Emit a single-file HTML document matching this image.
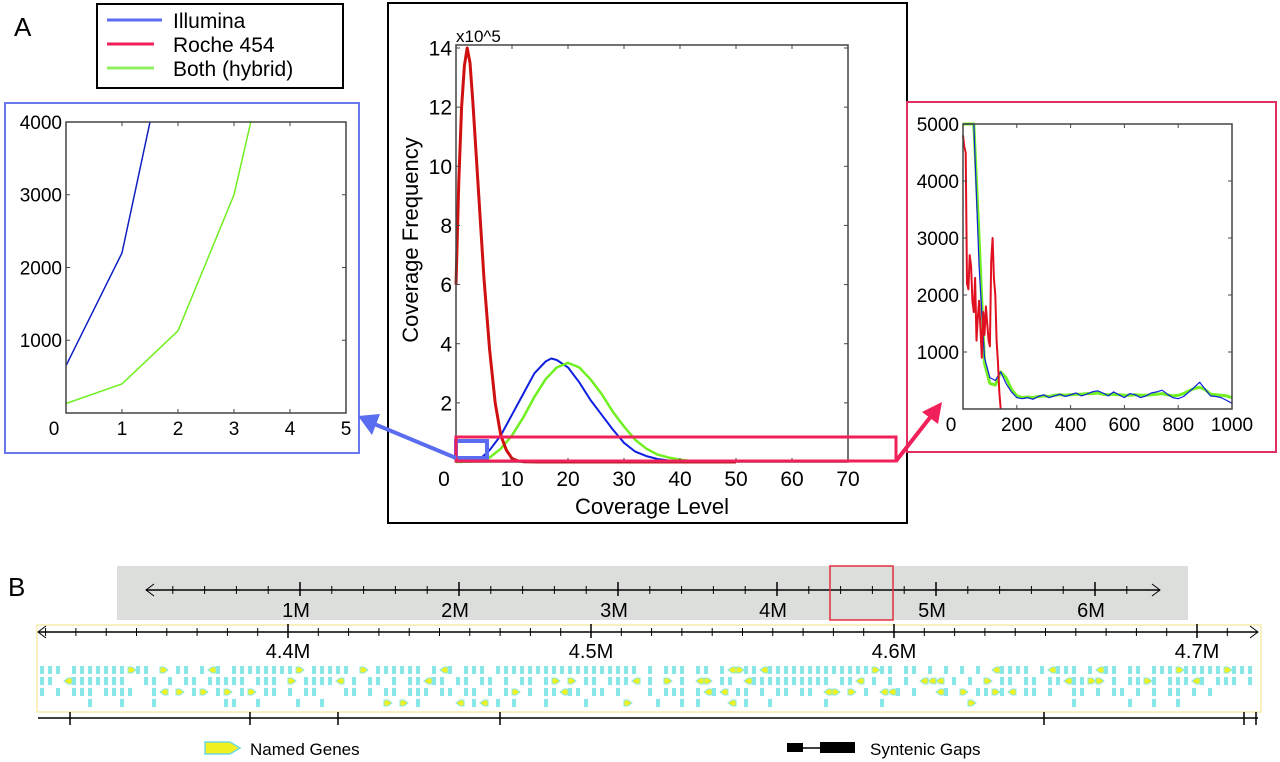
<!DOCTYPE html>
<html><head><meta charset="utf-8"><style>
html,body{margin:0;padding:0;background:#fff;}
svg{display:block;font-family:"Liberation Sans",Arial,sans-serif;}
</style></head><body>
<svg id="fig" width="1280" height="762" viewBox="0 0 1280 762" xmlns="http://www.w3.org/2000/svg">
<text x="14" y="36" font-size="26">A</text>
<text x="8" y="596" font-size="26">B</text>
<g>
<rect x="97" y="4" width="246" height="84" fill="#fff" stroke="#000" stroke-width="2"/>
<g><line x1="107" y1="20" x2="162" y2="20" stroke="#5a6cf0" stroke-width="3"/><text x="173" y="28" font-size="21">Illumina</text></g>
<g><line x1="107" y1="44" x2="154" y2="44" stroke="#f0205a" stroke-width="3"/><text x="173" y="52" font-size="21">Roche 454</text></g>
<g><line x1="107" y1="68" x2="154" y2="68" stroke="#90f060" stroke-width="3"/><text x="173" y="76" font-size="21">Both (hybrid)</text></g>
</g>
<rect x="388" y="3" width="519" height="520" fill="none" stroke="#000" stroke-width="2"/>
<rect x="5" y="103" width="354" height="350" fill="none" stroke="#6a78f0" stroke-width="2"/>
<rect x="907" y="102" width="369" height="350" fill="none" stroke="#e03060" stroke-width="2"/>
<g id="main"></g>
<g id="left"></g>
<g id="right"></g>
<g id="overlay"></g>
<g id="genome"></g>
</svg>
<script>
// ---- main chart data ----
const redX = [0,0.5,1,1.5,2,2.5,3,4,5,6,7,8,9,10,11,12,15,20,30,50];
const redY = [6.0,9.5,12.0,13.4,14.0,13.5,12.2,9.2,6.2,3.8,2.0,0.9,0.4,0.12,0.04,0.01,0,0,0,0];
const blueX = [0,2,4,6,8,10,12,14,16,17,18,20,22,24,26,28,30,32,34,36,38,40,45];
const blueY = [0,0.01,0.05,0.4,0.9,1.6,2.3,3.0,3.4,3.5,3.45,3.2,2.7,2.1,1.6,1.1,0.65,0.35,0.2,0.1,0.05,0.02,0];
const greenX = [0,4,6,8,10,12,14,16,18,20,22,24,26,28,30,32,34,36,38,40,42,45];
const greenY = [0,0.02,0.15,0.45,0.9,1.5,2.2,2.8,3.2,3.35,3.2,2.8,2.3,1.7,1.2,0.75,0.45,0.25,0.15,0.08,0.03,0];
const mainXTicks = [0,10,20,30,40,50,60,70];
const mainYTicks = [2,4,6,8,10,12,14];
// ---- left inset data ----
const leftBlueX = [0,1,1.5];
const leftBlueY = [650,2200,4000];
const leftGreenX = [0,1,2,3,3.3];
const leftGreenY = [130,400,1130,3000,4000];
const leftXTicks = [0,1,2,3,4,5];
const leftYTicks = [1000,2000,3000,4000];
// ---- right inset data (x step 20) ----
const rightBlueY = [5000,5000,5000,2500,900,550,500,650,450,300,200,180,200,170,220,250,200,230,260,220,250,280,230,260,300,320,280,230,300,250,200,270,250,200,230,280,300,330,260,200,180,220,300,380,470,350,230,220,200,150,100];
const rightGreenY = [5000,5000,5000,3000,800,450,420,650,550,350,230,200,210,200,220,230,220,240,250,240,250,260,260,270,270,280,260,250,260,250,240,240,250,240,240,250,260,270,250,230,240,270,320,360,380,340,260,250,240,230,200];
const rightRedX = [0,5,10,15,20,25,30,35,40,45,50,55,60,65,70,75,80,85,90,95,100,105,110,115,120,125,130,135,140];
const rightRedY = [4800,4600,4500,2200,2100,2700,2500,1900,1700,2300,1200,1600,1900,1400,900,1700,1300,1800,1500,1200,1100,2600,3000,2300,2000,1200,800,300,0];
const rightXTicks = [0,200,400,600,800,1000];
const rightYTicks = [1000,2000,3000,4000,5000];
// ---- genome panel ----
const overviewTicks = ["1M","2M","3M","4M","5M","6M"];
const detailTicks = ["4.4M","4.5M","4.6M","4.7M"];
const geneRows = [
"||| |||||||>|| > || |<| ||||||||> ||||| > |||||| |<| ||| |||||||||||||||||| | ||| || |<>||<|||||||||||||>|| || | | | | <|||| |<||| |<|| || |||>|||||>|||||>>|||| |||",
"|| <|||||||  || | || ||||| ||| > ||||< | || | ||<|| || || | || |> > || |||< | > | <> || <|||||||||| ||< | | | <<< | | > || || ||<||>> | ||>| |||<| ||| ||<| |",
"| | ||| ||||  |< > |> |> |> || | ||   || | || ||| || || | |> | ||<|| || |   | ||| |<|< || | || || <> > | <<| |  <| > ||>|< || |  || | || | | || | |",
"      |   |   |        ||  |    |  |       > > |    < |< | |   |    |    >   |  | |   < |  |      |      |          >            |      |  |  |          |  "
];
const baseTicksX = [70,250,338,500,1044,1244,1256];

const NS="http://www.w3.org/2000/svg";
function mk(tag, attrs, parent){const e=document.createElementNS(NS,tag);for(const k in attrs)e.setAttribute(k,attrs[k]);parent.appendChild(e);return e;}
function txt(s, attrs, parent){const e=mk('text',attrs,parent);e.textContent=s;return e;}

function drawChart(g, o){
  const sx=v=>o.x0+(v-o.xmin)/(o.xmax-o.xmin)*(o.x1-o.x0);
  const sy=v=>o.y0-(v-o.ymin)/(o.ymax-o.ymin)*(o.y0-o.y1);
  o.series.forEach(s=>{
    const pts=s.x.map((x,i)=>sx(x).toFixed(1)+','+Math.max(o.top,sy(s.y[i])).toFixed(1)).join(' ');
    const p=mk('polyline',{points:pts,fill:'none',stroke:s.color,'stroke-width':s.w,'stroke-linejoin':'round'},g);
    
    
  });
  const box=mk('rect',{x:o.x0,y:o.top,width:o.x1-o.x0,height:o.y0-o.top,fill:'none',stroke:'#444','stroke-width':1.5},g);
  
  
  o.xt.forEach(t=>{
    const x=sx(t);
    mk('line',{x1:x,y1:o.y0,x2:x,y2:o.y0-4,stroke:'#444'},g);
    mk('line',{x1:x,y1:o.top,x2:x,y2:o.top+4,stroke:'#444'},g);
    const lt=txt(String(t),{x:(t===o.xmin?x-12:x),y:o.y0+o.fs+3,'font-size':o.fs,'text-anchor':'middle'},g);
    
    
  });
  o.yt.forEach(t=>{
    const y=sy(t);
    mk('line',{x1:o.x0,y1:y,x2:o.x0+4,y2:y,stroke:'#444'},g);
    mk('line',{x1:o.x1,y1:y,x2:o.x1-4,y2:y,stroke:'#444'},g);
    const lt=txt(String(t),{x:o.x0-4,y:y+o.fs*0.36,'font-size':o.fs,'text-anchor':'end'},g);
    
    
  });
  return {sx,sy};
}

const mainG=document.getElementById('main');
drawChart(mainG,{x0:456,x1:848,y0:462,y1:48,top:45,xmin:0,xmax:70,ymin:0,ymax:14,fs:21,xt:mainXTicks,yt:mainYTicks,
 series:[{x:blueX,y:blueY,color:'#1020e0',w:2,name:'illumina-curve'},{x:greenX,y:greenY,color:'#70f020',w:2.5,name:'hybrid-curve'},{x:redX,y:redY,color:'#d01010',w:3,name:'roche-curve'}]});
let t=txt('x10^5',{x:456,y:42,'font-size':17},mainG);
t=txt('Coverage Frequency',{x:418,y:240,'font-size':22,'text-anchor':'middle',transform:'rotate(-90 418 240)'},mainG);
t=txt('Coverage Level',{x:652,y:514,'font-size':22,'text-anchor':'middle'},mainG);

drawChart(document.getElementById('left'),{x0:66,x1:346,y0:413,y1:122,top:122,xmin:0,xmax:5,ymin:0,ymax:4000,fs:19,xt:leftXTicks,yt:leftYTicks,
 series:[{x:leftBlueX,y:leftBlueY,color:'#1020c0',w:1.5,name:'left-illumina-line'},{x:leftGreenX,y:leftGreenY,color:'#70f020',w:1.5,name:'left-hybrid-line'}]});

const rX=rightBlueY.map((_,i)=>i*20);
drawChart(document.getElementById('right'),{x0:963,x1:1232,y0:409,y1:124,top:124,xmin:0,xmax:1000,ymin:0,ymax:5000,fs:19,xt:rightXTicks,yt:rightYTicks,
 series:[{x:rX,y:rightGreenY,color:'#70f020',w:3,name:'right-hybrid-line'},{x:rX,y:rightBlueY,color:'#1020e0',w:1.2,name:'right-illumina-line'},{x:rightRedX,y:rightRedY,color:'#e01020',w:2,name:'right-roche-line'}]});

const ov=document.getElementById('overlay');
let e=mk('rect',{x:456,y:441,width:31,height:17,fill:'none',stroke:'#5a6cf0','stroke-width':4},ov);
e=mk('rect',{x:456,y:437,width:440,height:24,fill:'none',stroke:'#f0205a','stroke-width':3},ov);
e=mk('line',{x1:456,y1:458,x2:372,y2:423,stroke:'#5a6cf0','stroke-width':4},ov);
mk('polygon',{points:'358,416 380,414 372,435',fill:'#5a6cf0'},ov);
e=mk('line',{x1:896,y1:461,x2:932,y2:415,stroke:'#f0205a','stroke-width':4},ov);
mk('polygon',{points:'942,402 922,412 938,424',fill:'#f0205a'},ov);

const gg=document.getElementById('genome');
e=mk('rect',{x:117,y:566,width:1071,height:54,fill:'#dcdedc'},gg);
mk('line',{x1:146,y1:590,x2:1160,y2:590,stroke:'#000','stroke-width':1.5},gg);
mk('polyline',{points:'154,584 146,590 154,596',fill:'none',stroke:'#000'},gg);
mk('polyline',{points:'1152,584 1160,590 1152,596',fill:'none',stroke:'#000'},gg);
for(let v=-0.6;v<=6.4;v+=0.2){const x=300+(v-1)*159;if(x<150||x>1156)continue;mk('line',{x1:x,y1:586,x2:x,y2:594,stroke:'#000'},gg);}
overviewTicks.forEach((s,i)=>{const x=300+i*159;mk('line',{x1:x,y1:582,x2:x,y2:596,stroke:'#000','stroke-width':1.5},gg);
 const l=txt(s,{x:x-4,y:617,'font-size':20,'text-anchor':'middle'},gg);});
e=mk('rect',{x:830,y:566,width:63,height:54,fill:'none',stroke:'#e03040','stroke-width':1.5},gg);
e=mk('rect',{x:37,y:625,width:1224,height:87,fill:'none',stroke:'#f8f0c0','stroke-width':2},gg);
mk('line',{x1:38,y1:632,x2:1258,y2:632,stroke:'#000','stroke-width':1.5},gg);
mk('polyline',{points:'46,626 38,632 46,638',fill:'none',stroke:'#000'},gg);
mk('polyline',{points:'1250,626 1258,632 1250,638',fill:'none',stroke:'#000'},gg);
for(let k=-8;k<=32;k++){const x=288+k*30.3;if(x<42||x>1254)continue;mk('line',{x1:x,y1:628,x2:x,y2:636,stroke:'#000'},gg);}
detailTicks.forEach((s,i)=>{const x=288+i*303;mk('line',{x1:x,y1:624,x2:x,y2:638,stroke:'#000','stroke-width':1.5},gg);
 const l=txt(s,{x:x,y:658,'font-size':20,'text-anchor':'middle'},gg);});
geneRows.forEach((row,r)=>{
  const y=666+r*11;
  for(let i=0;i<row.length&&i<152;i++){
    const c=row[i], x=40+i*8;
    if(c==='|'){const g=mk('rect',{x:x,y:y,width:4,height:8,fill:'#88e8e8'},gg);}
    else if(c==='>'){const g=mk('polygon',{points:`${x},${y+1} ${x+4},${y+1} ${x+8},${y+4} ${x+4},${y+7} ${x},${y+7}`,fill:'#f0f020',stroke:'#88e8e8','stroke-width':1},gg);}
    else if(c==='<'){const g=mk('polygon',{points:`${x+8},${y+1} ${x+4},${y+1} ${x},${y+4} ${x+4},${y+7} ${x+8},${y+7}`,fill:'#f0f020',stroke:'#88e8e8','stroke-width':1},gg);}
  }
});
e=mk('line',{x1:38,y1:718,x2:1258,y2:718,stroke:'#000','stroke-width':1.5},gg);
baseTicksX.forEach(x=>{mk('line',{x1:x,y1:712,x2:x,y2:725,stroke:'#000','stroke-width':1.5},gg);});
e=mk('polygon',{points:'205,742 230,742 240,748 230,754 205,754',fill:'#f0f020',stroke:'#70d8e0','stroke-width':1.5},gg);
t=txt('Named Genes',{x:250,y:755,'font-size':17},gg);
mk('rect',{x:787,y:743,width:16,height:9,fill:'#000'},gg);
mk('line',{x1:803,y1:748,x2:820,y2:748,stroke:'#000','stroke-width':1.5},gg);
e=mk('rect',{x:820,y:742,width:35,height:11,fill:'#000'},gg);
t=txt('Syntenic Gaps',{x:870,y:755,'font-size':17},gg);
</script>
</body></html>
